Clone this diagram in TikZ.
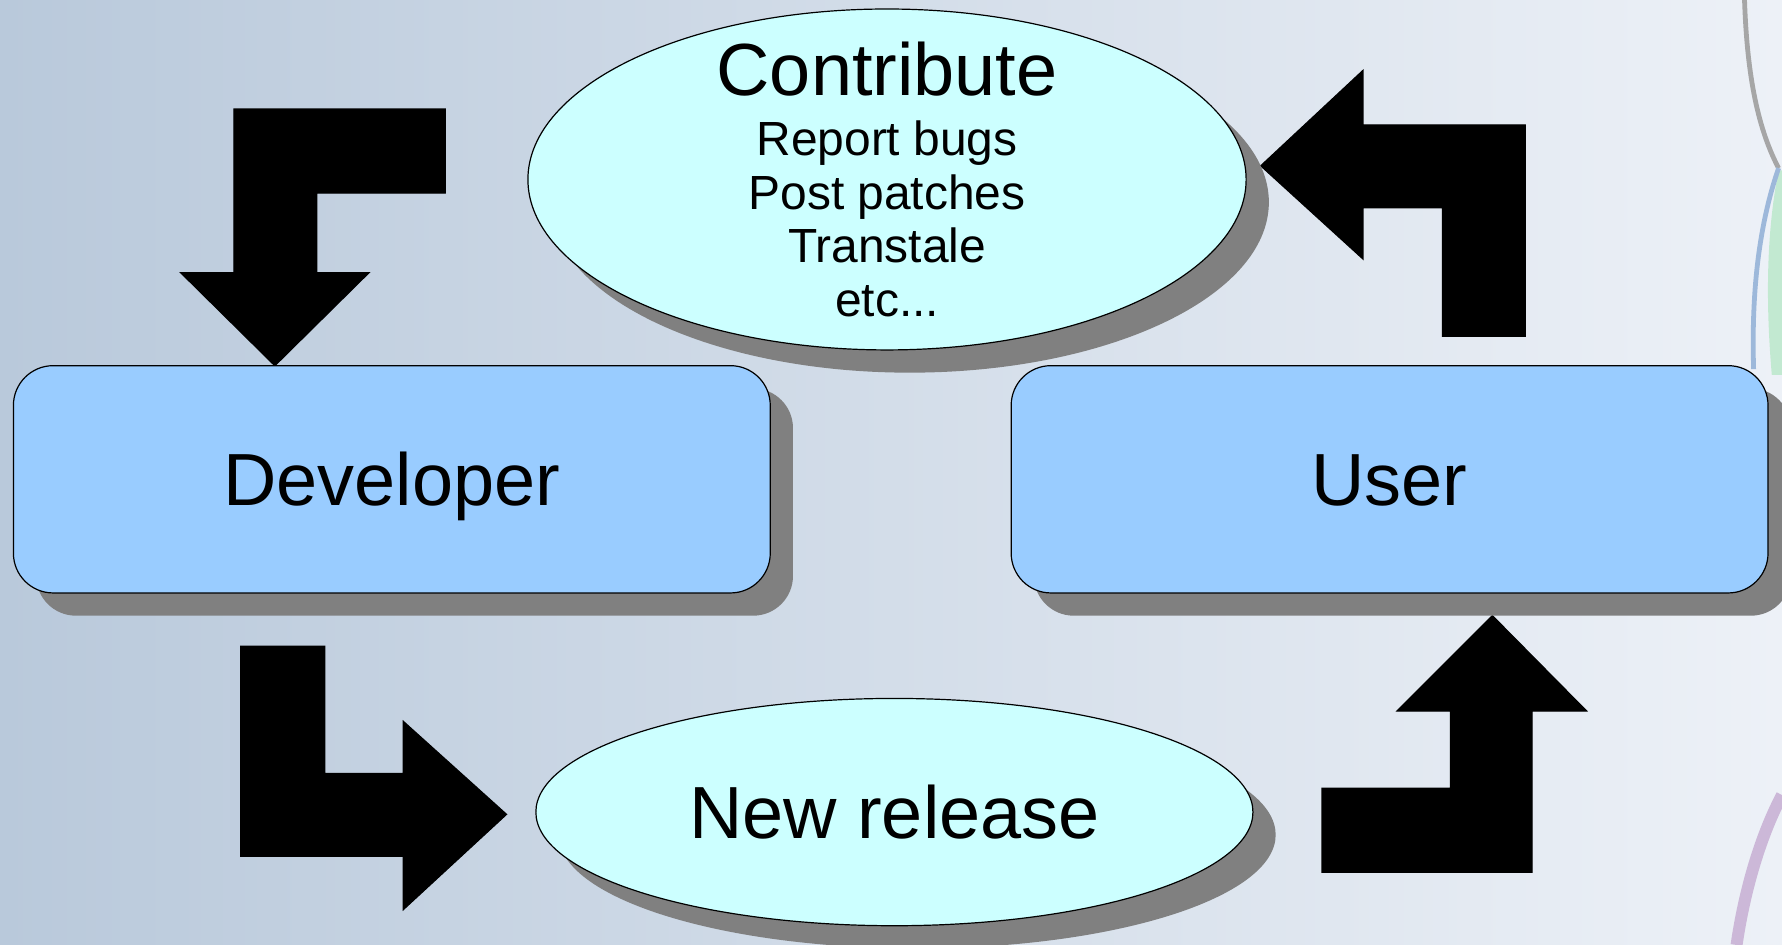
\documentclass[tikz,border=0pt]{standalone}
\usepackage{fontspec}
\setmainfont{Liberation Sans}
\usetikzlibrary{shapes.geometric,shadows}

\definecolor{boxblue}{HTML}{99CCFF}
\definecolor{bubblecyan}{HTML}{CCFFFF}
\definecolor{shadowgray}{HTML}{808080}
\definecolor{bgleft}{HTML}{B9C9DB}
\definecolor{bgright}{HTML}{EDF1F7}
\definecolor{swirlgreen}{HTML}{B8E8C8}
\definecolor{swirlblue}{HTML}{9DB8DA}
\definecolor{swirlviolet}{HTML}{CCB8D8}

\tikzset{
  roleshadow/.style={drop shadow={shadow xshift=0.2cm, shadow yshift=-0.2cm, fill=shadowgray, opacity=1}},
  rolebox/.style={draw=black, line width=0.3pt, fill=boxblue, rounded corners=0.35cm,
    minimum width=6.66cm, minimum height=2cm, text height=13.3pt, text depth=0pt,
    font=\fontsize{18.5}{22}\selectfont, roleshadow},
  bubble/.style={ellipse, draw=black, line width=0.3pt, fill=bubblecyan, inner sep=0pt, roleshadow},
  bigarrow/.style={fill=black, draw=black, line width=0.3pt, line join=miter}
}

\begin{document}
\begin{tikzpicture}[x=0.01cm, y=-0.01cm]
\useasboundingbox (0,0) rectangle (1569,832);
\shade[left color=bgleft, right color=bgright] (0,0) rectangle (1569,832);

% swirl at the right edge
\begin{scope}
\clip (0,0) rectangle (1569,832);
\fill[swirlgreen, opacity=0.8] (1566,150) .. controls (1556,200) and (1554,260) .. (1560,330) -- (1569,330) -- (1569,150) -- cycle;
\draw[gray!70, line width=1.2pt] (1536,0) .. controls (1538,60) and (1546,110) .. (1566,148);
\draw[swirlblue, line width=1.2pt] (1566,148) .. controls (1548,200) and (1542,260) .. (1544,325);
\draw[swirlviolet, line width=3pt] (1569,700) .. controls (1548,740) and (1535,790) .. (1529,832);
\end{scope}

% block arrows
\filldraw[bigarrow] (392,96) -- (206,96) -- (206,240) -- (159,240) -- (242,322) -- (325,240) -- (279,240) -- (279,170) -- (392,170) -- cycle;
\filldraw[bigarrow] (1270,296) -- (1343,296) -- (1343,110) -- (1200,110) -- (1200,62) -- (1110,146) -- (1200,228) -- (1200,183) -- (1270,183) -- cycle;
\filldraw[bigarrow] (212,569) -- (286,569) -- (286,681) -- (355,681) -- (355,635) -- (446,717) -- (355,801) -- (355,754) -- (212,754) -- cycle;
\filldraw[bigarrow] (1164,694) -- (1277,694) -- (1277,626) -- (1230,626) -- (1314,542) -- (1397,626) -- (1349,626) -- (1349,768) -- (1164,768) -- cycle;

% roles
\node[rolebox] (dev) at (345,422) {Developer};
\node[rolebox] (user) at (1223.5,422) {User};

% bubbles
\node[bubble, minimum width=6.32cm, minimum height=3.0cm] (contrib) at (781,158) {};
\node[font=\fontsize{12}{13.4}\selectfont, align=center] (contribtext) at (contrib.center)
  {{\fontsize{18.5}{22}\selectfont Contribute}\\[1.5pt] Report bugs\\ Post patches\\ Transtale\\ etc...};
\node[bubble, minimum width=6.31cm, minimum height=2.0cm, font=\fontsize{18.5}{22}\selectfont] (release) at (787.5,715) {New release};

\end{tikzpicture}
\end{document}
